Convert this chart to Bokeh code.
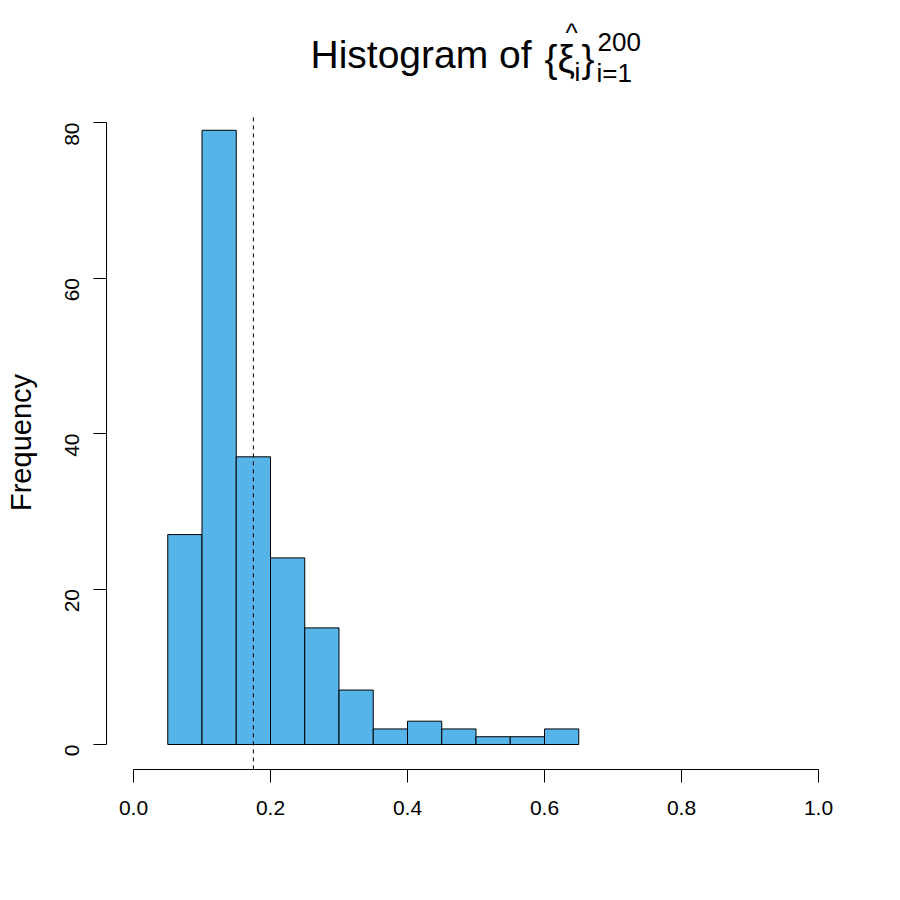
import math
from bokeh.plotting import figure
from bokeh.layouts import column
from bokeh.models import Range1d, Label, FixedTicker
from bokeh.embed import file_html
from bokeh.resources import INLINE

# ---- data ----
bin_left = [0.05, 0.10, 0.15, 0.20, 0.25, 0.30, 0.35, 0.40, 0.45, 0.50, 0.55, 0.60]
bin_right = [0.10, 0.15, 0.20, 0.25, 0.30, 0.35, 0.40, 0.45, 0.50, 0.55, 0.60, 0.65]
counts = [27, 79, 37, 24, 15, 7, 2, 3, 2, 1, 1, 2]
ref_line_x = 0.175
x_ticks = [0.0, 0.2, 0.4, 0.6, 0.8, 1.0]
x_tick_labels = ["0.0", "0.2", "0.4", "0.6", "0.8", "1.0"]
y_ticks = [0, 20, 40, 60, 80]

FONT = "Liberation Sans"
BAR_COLOR = "#56B4E9"

# ---- page geometry (pixels) ----
X0_PX, X_SCALE = 133.0, 685.0      # pixel of x=0, pixels per x unit
Y0_PX, Y_SCALE = 744.0, 7.775      # pixel of y=0, pixels per y unit
PAGE_W = 892
TITLE_H = 115                      # height of the title strip
FRAME_L, FRAME_R, FRAME_T, FRAME_B = 106, 892, TITLE_H, 769
BOTTOM = 123

def dx(px):
    return (px - X0_PX) / X_SCALE

def dy(py):
    return (Y0_PX - py) / Y_SCALE

# R-style plot region (4% expansion) for the reference line
y_plot_lo = y_ticks[0] - 0.04 * (y_ticks[-1] - y_ticks[0])
y_plot_hi = y_ticks[-1] + 0.04 * (y_ticks[-1] - y_ticks[0])

# ---------------- title strip ----------------
t = figure(frame_width=PAGE_W, frame_height=TITLE_H,
           min_border_left=0, min_border_right=0, min_border_top=0, min_border_bottom=0,
           x_range=Range1d(0, PAGE_W), y_range=Range1d(TITLE_H, 0),
           x_axis_type=None, y_axis_type=None, frame_align=False,
           output_backend="svg", toolbar_location=None)
t.outline_line_color = None
t.xgrid.visible = False
t.ygrid.visible = False
t.background_fill_color = "white"
t.border_fill_color = "white"

BASE_FIX = 0.4  # observed shift of the svg alphabetic baseline (x font size)

def lab(text, px, py, size):
    t.add_layout(Label(x=px, y=py - BASE_FIX * size, text=text,
                       text_font=FONT, text_font_size=f"{size}px",
                       text_color="black", text_align="left",
                       text_baseline="alphabetic"))

# main title: Histogram of {xi-hat_i}_{i=1}^{200}
lab("Histogram of", 310, 70, 39)
lab("{", 544, 74, 39)
lab("\u03be", 557, 74, 39)
lab("^", 565, 43, 26)
lab("i", 574, 82, 26)
lab("}", 581, 74, 39)
lab("200", 597, 52, 26)
lab("i=1", 596, 83, 26)

# ---------------- histogram ----------------
p = figure(frame_width=FRAME_R - FRAME_L, frame_height=FRAME_B - FRAME_T,
           min_border_left=FRAME_L, min_border_right=0,
           min_border_top=0, min_border_bottom=BOTTOM,
           x_range=Range1d(dx(FRAME_L), dx(FRAME_R)),
           y_range=Range1d(dy(FRAME_B), dy(FRAME_T)), frame_align=False,
           output_backend="svg", toolbar_location=None)
p.outline_line_color = None
p.xgrid.visible = False
p.ygrid.visible = False
p.background_fill_color = "white"
p.border_fill_color = "white"

p.quad(left=bin_left, right=bin_right, bottom=0, top=counts,
       fill_color=BAR_COLOR, line_color="black", line_width=1)

p.segment(x0=[ref_line_x], x1=[ref_line_x], y0=[y_plot_lo], y1=[y_plot_hi],
          line_color="black", line_dash="4 4", line_width=1)

for ax in (p.xaxis[0], p.yaxis[0]):
    ax.axis_line_color = "black"
    ax.major_tick_line_color = "black"
    ax.minor_tick_line_color = None
    ax.major_tick_in = 0
    ax.major_tick_out = 13
    ax.major_label_text_font = FONT
    ax.major_label_text_font_size = "21px"
    ax.major_label_text_color = "black"

p.xaxis[0].ticker = FixedTicker(ticks=x_ticks)
p.xaxis[0].major_label_overrides = {t_: l for t_, l in zip(x_ticks, x_tick_labels)}
p.xaxis[0].bounds = (x_ticks[0], x_ticks[-1])
p.xaxis[0].major_label_standoff = 18

p.yaxis[0].ticker = FixedTicker(ticks=y_ticks)
p.yaxis[0].bounds = (y_ticks[0], y_ticks[-1])
p.yaxis[0].major_label_orientation = math.pi / 2
p.yaxis[0].major_label_standoff = 22
p.yaxis[0].axis_label = "Frequency"
p.yaxis[0].axis_label_text_font = FONT
p.yaxis[0].axis_label_text_font_size = "29px"
p.yaxis[0].axis_label_text_font_style = "normal"
p.yaxis[0].axis_label_text_color = "black"
p.yaxis[0].axis_label_standoff = 18

layout = column(t, p, spacing=0)
open("out.html", "w").write(file_html(layout, INLINE))
